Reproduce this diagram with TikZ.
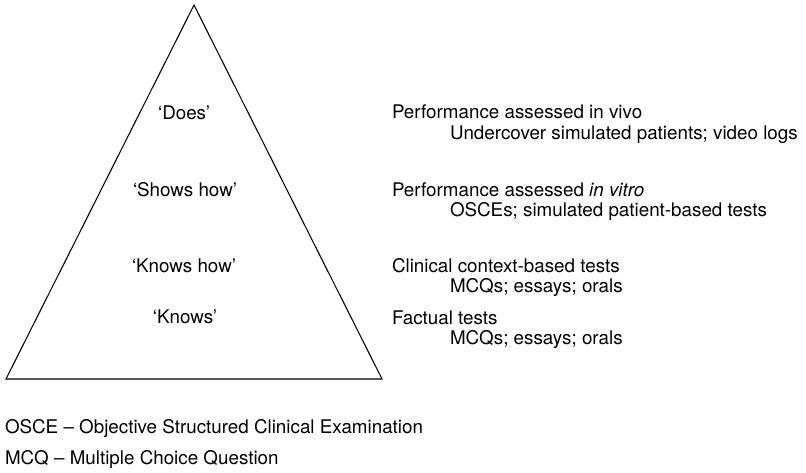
\documentclass[tikz,border=0pt]{standalone}
\usepackage{fontspec}
\setmainfont{TeX Gyre Heros}
\begin{document}
\begin{tikzpicture}[x=0.75pt,y=-0.75pt,
  every node/.style={inner sep=0pt,outer sep=0pt,font=\fontsize{14.1}{16}\selectfont},
  level/.style={anchor=base},
  head/.style={anchor=base west},
  sub/.style={anchor=base west},
  note/.style={anchor=base west},
  pyr/.style={draw=black,line width=0.8pt,line join=miter}]
\useasboundingbox (0,0) rectangle (806,473);
% pyramid
\coordinate (apex) at (194,5);
\coordinate (bl) at (6,379);
\coordinate (br) at (382,379);
\draw[pyr] (apex) -- (br) -- (bl) -- cycle;
% levels inside the pyramid
\node[level] (does) at (184,120) {‘Does’};
\node[level] (shows) at (185,197) {‘Shows how’};
\node[level] (knowshow) at (184,273) {‘Knows how’};
\node[level] (knows) at (185,324) {‘Knows’};
% assessment methods
\node[head] (h1) at (392,119) {Performance assessed in vivo};
\node[sub] (s1) at (450,140) {Undercover simulated patients; video logs};
\node[head] (h2) at (392,197) {Performance assessed \textit{in vitro}};
\node[sub] (s2) at (450,217) {OSCEs; simulated patient-based tests};
\node[head] (h3) at (392,273) {Clinical context-based tests};
\node[sub] (s3) at (450,293) {MCQs; essays; orals};
\node[head] (h4) at (392,325) {Factual tests};
\node[sub] (s4) at (450,345) {MCQs; essays; orals};
% abbreviations
\node[note] (n1) at (5,433) {OSCE – Objective Structured Clinical Examination};
\node[note] (n2) at (5,464) {MCQ – Multiple Choice Question};
\end{tikzpicture}
\end{document}
